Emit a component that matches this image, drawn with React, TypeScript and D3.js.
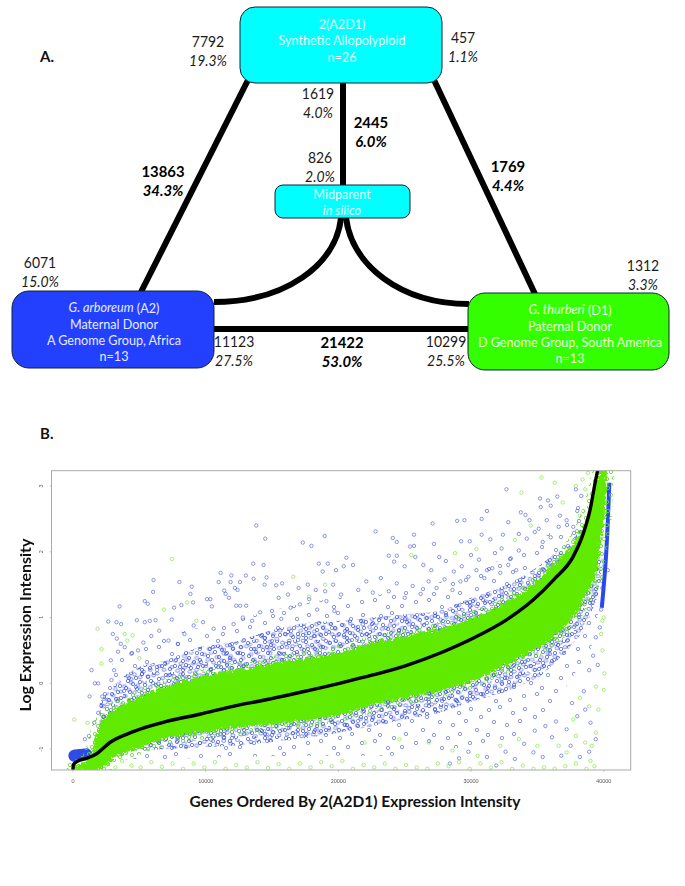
import React from "react";
import * as d3 from "d3";

// ---------- Panel A values ----------
const topBoxLines = ["2(A2D1)", "Synthetic Allopolyploid", "n=26"];
const midBoxLines = ["Midparent", "in silico"];
const leftBoxLines = ["Maternal Donor", "A Genome Group, Africa", "n=13"];
const rightBoxLines = ["Paternal Donor", "D Genome Group, South America", "n=13"];
const plainCounts: [string, string, number, number][] = [
  ["7792", "19.3%", 208, 43],
  ["457", "1.1%", 463, 39],
  ["1619", "4.0%", 318, 95],
  ["826", "2.0%", 320, 159],
  ["6071", "15.0%", 40, 264],
  ["1312", "3.3%", 643, 267],
  ["11123", "27.5%", 234, 343],
  ["10299", "25.5%", 446, 343],
];
const boldCounts: [string, string, number, number][] = [
  ["2445", "6.0%", 371, 124],
  ["13863", "34.3%", 163, 173],
  ["1769", "4.4%", 508, 168],
  ["21422", "53.0%", 342, 344],
];

// ---------- Panel B values (x in thousands of genes, y log intensity) ----------
const xTicks = [0, 10, 20, 30, 40];
const yTicks = [-1, 0, 1, 2, 3];
const midLine: [number, number][] = [[0,-1.3],[0.03,-1.24],[0.28,-1.19],[1.03,-1.14],[1.78,-1.07],[2.78,-0.9],[4.54,-0.735],[7.04,-0.58],[9.55,-0.47],[12.05,-0.35],[14.56,-0.25],[17.07,-0.14],[20.08,0.0],[22.6,0.127],[25.1,0.27],[27.63,0.457],[30.15,0.685],[32.67,0.965],[34.69,1.27],[36.2,1.57],[37.7,1.93],[38.46,2.28],[38.97,2.64],[39.35,3.05],[39.6,3.3]];
const greenUpper: [number, number][] = [[0.05,-1.27],[0.53,-1.24],[1.03,-1.17],[1.5,-1.0],[2.03,-0.62],[4.54,-0.25],[7.04,-0.05],[9.55,0.1],[12.05,0.2],[14.56,0.29],[17.07,0.37],[20.08,0.47],[22.6,0.62],[25.1,0.72],[27.6,0.83],[30.15,0.99],[32.7,1.24],[35.2,1.6],[36.45,1.86],[37.7,2.12],[39,2.69],[39.7,3.25]];
const greenLower: [number, number][] = [[0.05,-1.33],[2.03,-1.33],[3.28,-1.1],[7.04,-0.83],[12.05,-0.68],[17.07,-0.58],[20.08,-0.48],[22.6,-0.33],[25.1,-0.22],[27.6,-0.12],[30.15,0.03],[32.7,0.28],[35.2,0.55],[36.45,0.72],[37.7,1.0],[39.4,1.6],[40.05,2.49],[40.25,3.25]];
const blueUpper: [number, number][] = [[1.5,-0.8],[2,-0.1],[3,0.3],[4.5,0.55],[7,0.72],[12,0.95],[17,1.2],[20,1.3],[25,1.4],[30,1.7],[33,1.95],[35.2,2.2],[37.7,2.6],[38.4,2.9]];
const blueLower: [number, number][] = [[1.5,-1.1],[3.3,-1.15],[7,-1.15],[12,-1.12],[17,-1.1],[20,-1.1],[25,-1.1],[30,-0.95],[33,-0.85],[35,-0.6],[37,-0.1],[39,0.5],[40,1.5]];
const denseUpper: [number, number][] = [[2,-0.3],[3,-0.05],[4.5,0.2],[7,0.35],[9.5,0.55],[12,0.62],[14.5,0.78],[17,0.9],[20,0.95],[22.6,1.0],[25,1.05],[27.6,1.1],[30,1.3],[32.7,1.5],[35.2,1.8],[36.5,2.0],[37.7,2.2],[38.4,2.4]];
const denseLower: [number, number][] = [[2,-1.0],[3.3,-1.05],[7,-1.0],[12,-0.95],[17,-0.85],[20,-0.75],[22.6,-0.65],[25,-0.55],[27.6,-0.45],[30,-0.28],[32.7,-0.12],[35.2,0.1],[37,0.45],[38.5,0.8],[39.5,1.3],[40,1.9]];
const blueStrip: [number, number][] = [[40.42,3.05],[40.32,2.5],[40.15,1.8],[39.85,1.15]];
const blueBlob: [number, number][] = [[0.1,-1.1],[0.5,-1.09],[1.0,-1.08]];
const blueOutliers: [number, number][] = [
[13.81,2.4],[14.49,2.2],[17.32,2.14],[17.97,2.09],[18.97,2.24],[13.58,1.82],[14.36,1.8],[18.52,1.82],[19.2,1.82],[18.82,1.7],[19.82,1.72],[6.07,1.57],[6.04,1.39],[3.51,1.17],[8.02,1.54],[8.95,1.47],[8.85,1.36],[5.41,1.25],[5.64,1.21],[2.66,0.94],[3.28,0.93],[3.63,0.9],[4.81,0.96],[5.41,0.93],[5.79,0.95],[6.22,0.96],[7.44,0.97],[7.62,1.15],[8.17,1.19],[9.05,1.23],[10.1,1.28],[10.35,1.28],[10.47,1.17],[11.13,1.68],[11.93,1.64],[13.03,1.64],[10.98,1.54],[11.88,1.54],[12.58,1.54],[13.61,1.59],[14.59,1.61],[14.44,1.5],[15.31,1.49],[15.76,1.52],[11.4,1.41],[12.2,1.45],[12.4,1.42],[11.5,1.36],[11.75,1.3],[12.3,1.18],[13.05,1.18],[12.6,1.18],
[1.4,0.2],[1.65,0],[1.9,0.0],[1.25,-0.2],[2.2,-0.2],[2.6,-0.25],[2.9,0.05],[3.1,0.2],[2.85,0.35],[3.4,0.48],[3.6,0.6],[3.3,0.68],[3.0,0.75],[3.9,0.55],[4.4,0.45],[4.9,0.5],[5.3,0.62],[5.9,0.72],[6.5,0.8],[7.2,0.65],[7.9,0.6],[8.4,0.75],[9.1,0.88],[9.8,0.93],[10.6,0.83],[11.3,0.75],[12.1,0.9],[12.8,1.0],[13.5,0.95],[14.1,1.08],[15,1.1],[15.7,0.98],[16.4,1.15],[17.1,1.2],[17.8,1.28],[18.4,1.12],[19.1,1.25],[19.7,1.1],
[32.67,2.95],[35.2,2.81],[35.8,2.78],[36.5,2.84],[36,2.7],[35.25,2.68],[31.2,2.62],[33.75,2.6],[34.1,2.56],[32.8,2.45],[28.95,2.47],[29.5,2.48],[30.8,2.5],[27.1,2.43],[22.8,2.31],[24.1,2.21],[25.7,2.26],[24.4,2.15],[27.2,2.12],[25.4,2.08],[25.7,2.09],[29.25,2.16],[29.9,2.16],[30.8,2.26],[31.45,2.19],[32.4,2.26],[33.6,2.27],[23.8,1.94],[24.4,1.94],[20.6,1.91],[21.1,1.8],[20.4,1.78],[24.2,1.85],[25,1.78],[25.8,1.92],[26.4,1.8],[27,1.72],[27.6,1.92],[28.1,1.86],[28.7,1.7],[29.3,1.78],[30,1.95],[30.6,1.88],[31.2,1.72],[31.8,1.98],[32.3,2.05],[33,1.9],[33.6,2.02],[34.2,2.2],[34.8,2.3],[35.4,2.15],[36,2.22],[36.6,2.38],[37.2,2.48],[37.7,2.38],[36.7,2.55],[38,2.62],[38.3,2.85],[37.9,2.95],[35.1,2.35],[34.4,2.48],[35.7,2.48],
[21.5,1.42],[22.1,1.55],[22.6,1.38],[23.2,1.6],[23.8,1.4],[24.4,1.52],[25,1.3],[25.6,1.48],[26.2,1.36],[26.8,1.55],[27.4,1.45],[28,1.58],[28.6,1.42],[29.2,1.55],[29.8,1.62],[30.4,1.72],[31,1.6],[31.6,1.75],[32.2,1.68],[32.8,1.8],[33.4,1.72],[15.5,1.3],[16.2,1.35],[17,1.45],[17.7,1.5],[18.3,1.42],[19,1.4],[19.6,1.5],[20.2,1.35],
[0.9,-0.85],[1.2,-0.8],[1.6,-0.6],[1.9,-0.45],[2.3,-0.35],
[28.4,-1.22],[29.1,-1.14],[29.8,-1.04],[31.2,-1.12],[31.9,-1.25],[32.6,-1.04],[33.3,-1.15],[34,-0.92],[34.7,-1.05],[35.4,-1.12],[36.1,-0.82],[36.8,-1.1],[37.5,-0.95],[38.2,-1.12],[38.9,-1.04],[39.4,-0.85],[34.8,-0.72],[35.6,-0.65],[36.4,-0.58],[37.2,-0.7],[38,-0.5],[38.6,-0.4],[39,-0.6],[39.2,0.42],[39.4,0.7],[39.55,0.28],[39.7,0.85],[39.8,1.12],[40.3,1.72],[39.9,1.45],[38.5,-0.12],[38.9,0.2],[37.6,-0.3],
];
const greenOutliers: [number, number][] = [
[7.45,1.89],[16.6,1.62],[6.85,1.12],[8.6,1.23],[1.85,0.83],[2.15,0.52],[2.15,0.3],[0.1,-0.55],[1.1,-0.6],[4.1,0.65],[4.5,0.73],[5,0.38],[3.9,0.75],[9.3,0.95],[17.8,1.32],[19,1.5],[25.5,1.95],[28.8,1.98],[30.4,2.04],[33.3,2.18],[34.5,2.4],[36.9,2.75],[36.3,3.05],[35.3,3.13],[33.8,2.9],[37.9,3.0],[38.4,3.1],[38.8,3.2],[39.9,3.2],[40.1,3.12],[38.6,2.95],[38.2,2.55],
[1,-1.22],[2.5,-1.25],[3.2,-1.28],[3.7,-1.18],[4.4,-1.25],[5.1,-1.28],[5.9,-1.2],[6.7,-1.27],[7.5,-1.22],[8.3,-1.3],[9.1,-1.22],[9.9,-1.28],[10.7,-1.2],[11.5,-1.3],[12.3,-1.24],[13.1,-1.28],[13.9,-1.2],[14.7,-1.29],[15.5,-1.23],[16.3,-1.3],[17.1,-1.22],[17.9,-1.28],[18.7,-1.2],[19.5,-1.26],[20.3,-1.18],[21.1,-1.3],[21.9,-1.24],[22.7,-1.28],[23.5,-1.22],[24.3,-1.3],[25.1,-1.24],[25.9,-1.28],[26.7,-1.3],[27.5,-1.22],[28.3,-1.26],[29.1,-1.2],[29.9,-1.3],[30.7,-1.22],[31.5,-1.28],[32.3,-1.2],[33.1,-1.3],[33.9,-1.25],[34.7,-1.3],[35.5,-1.28],[36.3,-1.3],[37.1,-1.26],[37.9,-1.22],[38.7,-1.3],[39,-1.18],[39.3,-1.26],
[36.6,-0.95],[37.2,-1.05],[37.9,-0.8],[38.6,-0.9],[39.1,-0.95],[39.4,-0.75],[39.6,-0.4],[40,-0.1],[40.05,0.15],[39.9,0.5],[39.8,0.75],[39.4,-0.05],[38.9,-0.35],[38.2,-0.22],[40,1.0],[39.85,1.2],[39.9,0.95],[37.7,-0.55],[35,-0.95],[33.6,-0.85],[32.2,-0.95],[30.5,-1.1],[28.6,-1.02],[26.8,-0.9],[24.6,-0.85],[22,-0.9],
];
// Ring texture standing in for the thousands of overlapping points of the dense clouds
const sparseTile: [number, number][] = [[3,5],[14,2],[27,8],[39,4],[49,12],[8,17],[21,20],[34,16],[45,25],[2,30],[16,33],[28,29],[38,38],[51,36],[10,43],[24,42]];
const denseTile: [number, number][] = [[2,3],[8,1],[13,6],[19,2],[25,5],[31,1],[36,7],[5,9],[10,12],[17,10],[22,13],[28,9],[33,13],[38,14],[3,16],[7,20],[14,17],[19,21],[25,18],[30,22],[36,20],[1,24],[11,26],[16,27],[22,25],[27,28],[34,27],[39,26],[6,29],[19,30]];
const fringeTile: [number, number][] = [[2,2],[8,5],[14,1],[20,6],[4,10],[11,12],[17,11],[23,13],[1,17],[7,19],[14,18],[20,21]];

// ---------- Layout ----------
const W = 685, H = 886;
const plot = { l: 51.5, r: 630.7, t: 470.7, b: 770 };
const x = d3.scaleLinear().domain([-1620, 42030]).range([plot.l, plot.r]);
const y = d3.scaleLinear().domain([-1.318, 3.233]).range([plot.b, plot.t]);
const px = (v: number) => x(v * 1000);
const line = d3.line<[number, number]>().x(d => px(d[0])).y(d => y(d[1])).curve(d3.curveMonotoneX);
const stripLine = d3.line<[number, number]>().x(d => px(d[0])).y(d => y(d[1])).curve(d3.curveBasis);
const band = (up: [number, number][], low: [number, number][]) => {
  const a = line(up) as string;
  const rev = d3.line<[number, number]>().x(d => px(d[0])).y(d => y(d[1]))([...low].reverse()) as string;
  return a + "L" + rev.slice(1) + "Z";
};
const curveL = d3.path();
curveL.moveTo(341, 218);
curveL.bezierCurveTo(336, 265, 285, 302, 214, 302);
const curveR = d3.path();
curveR.moveTo(346, 218);
curveR.bezierCurveTo(352, 265, 400, 304, 469, 304);

const FONT = "Lato, 'Open Sans', sans-serif";
const TXT = "#1a1a1a";
const SX = 0.9;

function Box({ x0, y0, w, h, fill, r }: { x0: number; y0: number; w: number; h: number; fill: string; r: number }) {
  return <rect x={x0} y={y0} width={w} height={h} rx={r} ry={r} fill={fill} stroke="#123" strokeWidth={1} />;
}
function Squeezed({ cx, cy, fill, size, italic, bold, sx, children }: { cx: number; cy: number; fill: string; size: number; italic?: boolean; bold?: boolean; sx: number; children: React.ReactNode }) {
  return <text transform={`translate(${cx},${cy}) scale(${sx},1)`} textAnchor="middle" dominantBaseline="middle" fontSize={size} fill={fill} fontStyle={italic ? "italic" : undefined} fontWeight={bold ? 700 : undefined}>{children}</text>;
}
function Lines({ lines, cx, ys, fill }: { lines: string[]; cx: number; ys: number[]; fill: string }) {
  return <>{lines.map((t, i) => <Squeezed key={t + i} cx={cx} cy={ys[i]} fill={fill} size={14} sx={SX}>{t}</Squeezed>)}</>;
}
function Tile({ id, w, h, pts, color, sw, op, shift }: { id: string; w: number; h: number; pts: [number, number][]; color: string; sw: number; op: number; shift?: string }) {
  return (
    <pattern id={id} width={w} height={h} patternUnits="userSpaceOnUse" patternTransform={shift}>
      {pts.map((p, i) => <circle key={i} cx={p[0]} cy={p[1]} r={1.7} fill="none" stroke={color} strokeWidth={sw} opacity={op} />)}
    </pattern>
  );
}

export default function App() {
  return (
    <svg width={W} height={H} viewBox={`0 0 ${W} ${H}`} style={{ position: "absolute", left: 0, top: 0, background: "#fff" }} fontFamily={FONT}>
      <defs>
        <clipPath id="plotClip"><rect x={plot.l} y={plot.t} width={plot.r - plot.l} height={plot.b - plot.t} /></clipPath>
        <filter id="rough" x="-5%" y="-5%" width="110%" height="110%">
          <feTurbulence type="fractalNoise" baseFrequency="0.35" numOctaves="2" seed="4" result="n" />
          <feDisplacementMap in="SourceGraphic" in2="n" scale="7" result="d" />
          <feGaussianBlur in="d" stdDeviation="0.5" />
        </filter>
        <filter id="soft"><feGaussianBlur stdDeviation="0.3" /></filter>
        <Tile id="sparseRings" w={54} h={47} pts={sparseTile} color="#3f55d6" sw={0.7} op={0.85} />
        <Tile id="denseRings" w={41} h={32} pts={denseTile} color="#2f47d0" sw={0.8} op={0.85} />
        <Tile id="denseRings2" w={41} h={32} pts={denseTile} color="#3a52d8" sw={0.75} op={0.85} shift="translate(17,11) scale(1.13,0.91)" />
        <Tile id="fringeRings" w={25} h={23} pts={fringeTile} color="#5fd82a" sw={0.9} op={0.9} />
      </defs>

      {/* Panel A */}
      <g stroke="#000" strokeWidth={6} fill="none">
        <line x1={248} y1={80} x2={141} y2={292} />
        <line x1={434} y1={80} x2={535} y2={294} />
        <line x1={343} y1={82} x2={343} y2={186} />
        <line x1={214} y1={329} x2={468} y2={329} />
        <path d={curveL.toString()} />
        <path d={curveR.toString()} />
      </g>
      <Box x0={240} y0={7} w={202} h={76} fill="#00ffff" r={15} />
      <Box x0={275} y0={185} w={135} h={33} fill="#00ffff" r={8} />
      <Box x0={12} y0={291} w={202} h={77} fill="#2340ff" r={17} />
      <Box x0={468} y0={293} w={201} h={77} fill="#33ff00" r={17} />
      <Lines lines={topBoxLines} cx={342} ys={[25, 41, 58]} fill="#e6ffff" />
      <Squeezed cx={342} cy={195} fill="#e6ffff" size={14} sx={SX}>{midBoxLines[0]}</Squeezed>
      <Squeezed cx={342} cy={211} fill="#e6ffff" size={14} sx={SX} italic>{midBoxLines[1]}</Squeezed>
      <Squeezed cx={114} cy={309} fill="#e6ecff" size={14} sx={SX}><tspan fontStyle="italic">G. arboreum</tspan> (A2)</Squeezed>
      <Lines lines={leftBoxLines} cx={114} ys={[325, 341, 357]} fill="#e6ecff" />
      <Squeezed cx={570} cy={311} fill="#eaffdd" size={14} sx={SX}><tspan fontStyle="italic">G. thurberi</tspan> (D1)</Squeezed>
      <Lines lines={rightBoxLines} cx={570} ys={[327, 343, 359]} fill="#eaffdd" />
      {plainCounts.map(([n, p, cx, cy]) => (
        <g key={n}>
          <Squeezed cx={cx} cy={cy} fill={TXT} size={15.5} sx={SX}>{n}</Squeezed>
          <Squeezed cx={cx} cy={cy + 19} fill={TXT} size={15.5} sx={SX} italic>{p}</Squeezed>
        </g>
      ))}
      {boldCounts.map(([n, p, cx, cy]) => (
        <g key={n}>
          <Squeezed cx={cx} cy={cy} fill="#000" size={15.5} sx={0.96} bold>{n}</Squeezed>
          <Squeezed cx={cx} cy={cy + 19} fill="#000" size={15.5} sx={0.96} bold italic>{p}</Squeezed>
        </g>
      ))}
      <text x={40} y={62} fontSize={15} fontWeight={700} fill="#111">A.</text>
      <text x={40} y={439} fontSize={15} fontWeight={700} fill="#111">B.</text>

      {/* Panel B */}
      <g clipPath="url(#plotClip)">
        <path d={band(blueUpper, blueLower)} fill="url(#sparseRings)" />
        <path d={band(denseUpper, denseLower)} fill="url(#denseRings)" />
        <path d={band(denseUpper, denseLower)} fill="url(#denseRings2)" />
        <g fill="none" filter="url(#soft)">
          {blueOutliers.map((d, i) => <circle key={i} cx={px(d[0])} cy={y(d[1])} r={1.7} stroke="#3f55d6" strokeWidth={0.7} opacity={0.85} />)}
          {greenOutliers.map((d, i) => <circle key={i} cx={px(d[0])} cy={y(d[1])} r={1.7} stroke="#86e84a" strokeWidth={0.8} opacity={0.9} />)}
        </g>
        <path d={stripLine(blueStrip) as string} fill="none" stroke="#2a48ee" strokeWidth={4} />
        <path d={stripLine(blueBlob) as string} fill="none" stroke="#2f4be6" strokeWidth={12} strokeLinecap="round" />
        <path d={band(greenUpper, greenLower)} fill="none" stroke="url(#fringeRings)" strokeWidth={14} />
        <path d={band(greenUpper, greenLower)} fill="#5fea05" filter="url(#rough)" />
        <path d={line(midLine) as string} fill="none" stroke="#000" strokeWidth={3.4} strokeLinecap="round" />
      </g>
      <rect x={plot.l} y={plot.t} width={plot.r - plot.l} height={plot.b - plot.t} fill="none" stroke="#aaa" strokeWidth={1} />
      <g fill="#555" fontSize={5.2}>
        {xTicks.map(t => (
          <g key={t}>
            <line x1={px(t)} x2={px(t)} y1={plot.b} y2={plot.b + 2} stroke="#999" strokeWidth={0.5} />
            <text x={px(t)} y={plot.b + 13} textAnchor="middle">{t * 1000}</text>
          </g>
        ))}
        {yTicks.map(t => (
          <g key={t}>
            <line x1={plot.l - 2} x2={plot.l} y1={y(t)} y2={y(t)} stroke="#999" strokeWidth={0.5} />
            <text transform={`translate(43,${y(t)}) rotate(-90)`} textAnchor="middle">{t}</text>
          </g>
        ))}
      </g>
      <text transform="translate(31,625) rotate(-90)" textAnchor="middle" fontSize={16} fontWeight={700} fill="#111">Log Expression Intensity</text>
      <text x={355} y={807} textAnchor="middle" fontSize={15.5} fontWeight={700} fill="#111">Genes Ordered By 2(A2D1) Expression Intensity</text>
    </svg>
  );
}
